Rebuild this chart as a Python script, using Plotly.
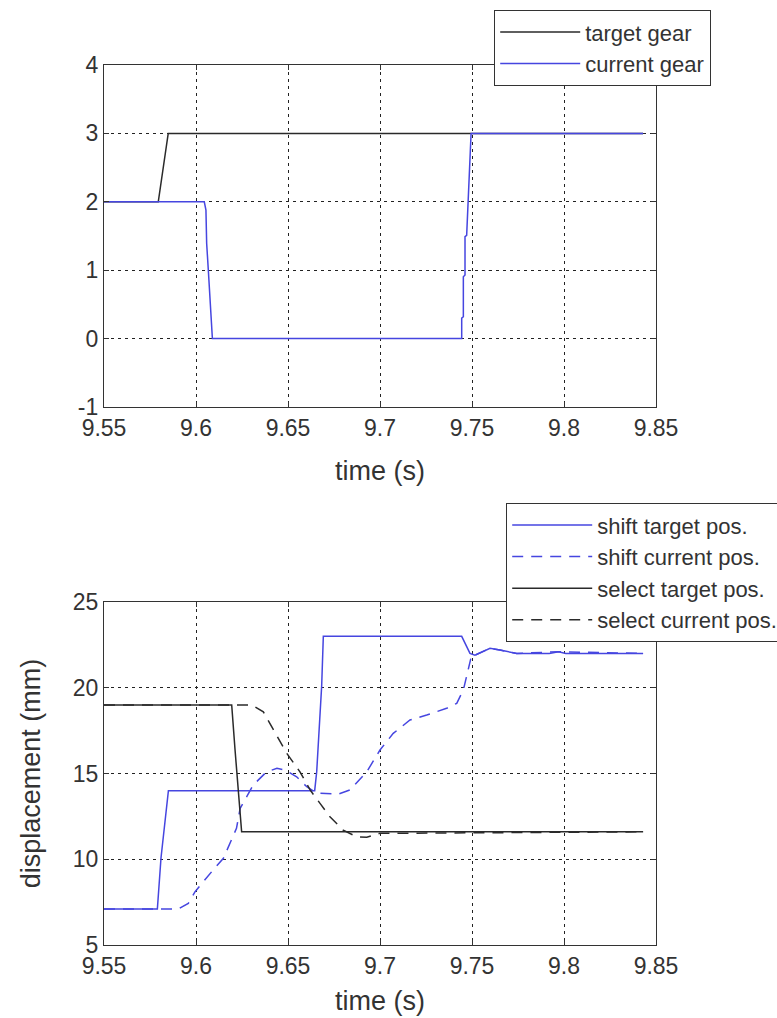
import plotly.graph_objects as go

# ---------------- data ----------------
x_ticks = [9.55, 9.6, 9.65, 9.7, 9.75, 9.8, 9.85]
x_tick_labels = ["9.55", "9.6", "9.65", "9.7", "9.75", "9.8", "9.85"]
gear_ticks = [-1, 0, 1, 2, 3, 4]
gear_tick_labels = ["-1", "0", "1", "2", "3", "4"]
disp_ticks = [5, 10, 15, 20, 25]
disp_tick_labels = ["5", "10", "15", "20", "25"]

# top panel: gears
t_target_gear = [9.55, 9.5795, 9.5849, 9.843]
target_gear = [2, 2, 3, 3]

t_current_gear = [9.55, 9.6045, 9.6054, 9.6058, 9.6067, 9.6076, 9.6089,
                  9.7444, 9.7444, 9.7453, 9.7453, 9.7462, 9.7462, 9.7471,
                  9.7480, 9.7489, 9.7495, 9.843]
current_gear = [2, 2, 1.88, 1.39, 1.0, 0.52, 0,
                0, 0.30, 0.32, 0.905, 0.93, 1.49, 1.51,
                2.07, 2.71, 3, 3]

# bottom panel: displacements (mm)
t_shift_target = [9.55, 9.579, 9.581, 9.585, 9.6645, 9.6656, 9.6683, 9.6692,
                  9.7444, 9.7489, 9.7516, 9.7555, 9.7598, 9.7652, 9.7743,
                  9.792, 9.797, 9.801, 9.843]
shift_target = [7.1, 7.1, 10.1, 14.0, 14.0, 15.1, 20.1, 23.0,
                23.0, 22.0, 21.9, 22.1, 22.3, 22.2, 22.0,
                22.0, 22.1, 22.0, 22.0]

t_shift_current = [9.55, 9.5904, 9.5958, 9.5995, 9.6085, 9.6149, 9.622, 9.624,
                   9.6311, 9.6384, 9.644, 9.6484, 9.6547, 9.6602, 9.6656, 9.6773,
                   9.6837, 9.6928, 9.70, 9.7072, 9.7163, 9.7254, 9.7362, 9.7417,
                   9.7453, 9.748, 9.7498, 9.7516, 9.7598, 9.7652, 9.7743, 9.797, 9.843]
shift_current = [7.1, 7.1, 7.43, 8.11, 9.27, 10.06, 11.8, 12.97,
                 14.33, 15.1, 15.3, 15.2, 14.81, 14.23, 13.85, 13.8,
                 14.04, 15.1, 16.37, 17.34, 18.12, 18.41, 18.8, 19.09,
                 19.87, 21.03, 21.9, 21.9, 22.3, 22.2, 22.0, 22.1, 22.0]

t_select_target = [9.55, 9.6194, 9.6212, 9.623, 9.624, 9.6248, 9.843]
select_target = [19.0, 19.0, 16.4, 14.04, 12.48, 11.6, 11.6]

t_select_current = [9.55, 9.6303, 9.6366, 9.642, 9.6493, 9.6565, 9.662, 9.6674,
                    9.6728, 9.68, 9.6873, 9.6928, 9.70, 9.843]
select_current = [19.0, 19.0, 18.6, 17.54, 16.18, 15.1, 14.04, 13.26,
                  12.48, 11.7, 11.31, 11.28, 11.51, 11.6]

# ---------------- styling ----------------
BLUE = "#4646e0"
BLACK = "#2a2a2a"
TEXT = "#333333"
FONT = "Liberation Sans, Arial, sans-serif"
LW = 1.5
DASH = "11px,8px"
TITLE_SIZE = 27
LEGEND_SIZE = 22

W, H = 777, 1018

fig = go.Figure()

fig.add_trace(go.Scatter(x=t_target_gear, y=target_gear, mode="lines",
                         name="target gear", line=dict(color=BLACK, width=LW),
                         xaxis="x", yaxis="y", legend="legend"))
fig.add_trace(go.Scatter(x=t_current_gear, y=current_gear, mode="lines",
                         name="current gear", line=dict(color=BLUE, width=LW),
                         xaxis="x", yaxis="y", legend="legend"))

fig.add_trace(go.Scatter(x=t_shift_target, y=shift_target, mode="lines",
                         name="shift target pos.", line=dict(color=BLUE, width=LW),
                         xaxis="x2", yaxis="y2", legend="legend2"))
fig.add_trace(go.Scatter(x=t_shift_current, y=shift_current, mode="lines",
                         name="shift current pos.", line=dict(color=BLUE, width=LW, dash=DASH),
                         xaxis="x2", yaxis="y2", legend="legend2"))
fig.add_trace(go.Scatter(x=t_select_target, y=select_target, mode="lines",
                         name="select target pos.", line=dict(color=BLACK, width=LW),
                         xaxis="x2", yaxis="y2", legend="legend2"))
fig.add_trace(go.Scatter(x=t_select_current, y=select_current, mode="lines",
                         name="select current pos.", line=dict(color=BLACK, width=LW, dash=DASH),
                         xaxis="x2", yaxis="y2", legend="legend2"))

def px_x(p):
    return p / W

def px_y(p):
    return (H - p) / H

common_axis = dict(
    showline=True, linecolor="#333333", linewidth=1.2, mirror="ticks",
    ticks="inside", ticklen=5, tickcolor="#333333", tickwidth=1,
    showgrid=True, gridcolor="#222222", gridwidth=1, griddash="3px,4px",
    zeroline=False, tickfont=dict(family=FONT, size=23, color=TEXT),
    automargin=False,
)

xdom = [px_x(104), px_x(656)]
title_font = dict(size=TITLE_SIZE, family=FONT, color=TEXT)

fig.update_layout(
    width=W, height=H, plot_bgcolor="white", paper_bgcolor="white",
    margin=dict(l=0, r=0, t=0, b=0, autoexpand=False),
    font=dict(family=FONT, color=TEXT),
    xaxis=dict(domain=xdom, anchor="y", range=[9.55, 9.85],
               tickvals=x_ticks, ticktext=x_tick_labels,
               title=dict(text="time (s)", font=title_font, standoff=21),
               **common_axis),
    yaxis=dict(domain=[px_y(407), px_y(65)], anchor="x", range=[-1, 4],
               tickvals=gear_ticks, ticktext=gear_tick_labels, **common_axis),
    xaxis2=dict(domain=xdom, anchor="y2", range=[9.55, 9.85],
                tickvals=x_ticks, ticktext=x_tick_labels,
                title=dict(text="time (s)", font=title_font, standoff=13),
                **common_axis),
    yaxis2=dict(domain=[px_y(945), px_y(602)], anchor="x2", range=[5, 25],
                tickvals=disp_ticks, ticktext=disp_tick_labels,
                title=dict(text="displacement (mm)", font=title_font, standoff=24),
                **common_axis),
    legend=dict(x=px_x(494), y=px_y(10), xanchor="left", yanchor="top",
                bgcolor="white", bordercolor="#333333", borderwidth=1.2,
                font=dict(family=FONT, size=LEGEND_SIZE, color=TEXT), itemwidth=80,
                tracegroupgap=0),
    legend2=dict(x=px_x(506), y=px_y(503), xanchor="left", yanchor="top",
                 bgcolor="white", bordercolor="#333333", borderwidth=1.2,
                 font=dict(family=FONT, size=LEGEND_SIZE, color=TEXT), itemwidth=80,
                 tracegroupgap=0),
    showlegend=True,
)

fig.write_html(
    "out.html",
    config={"displayModeBar": False},
    post_script="document.body.style.margin='0';document.body.style.overflow='hidden';",
)
